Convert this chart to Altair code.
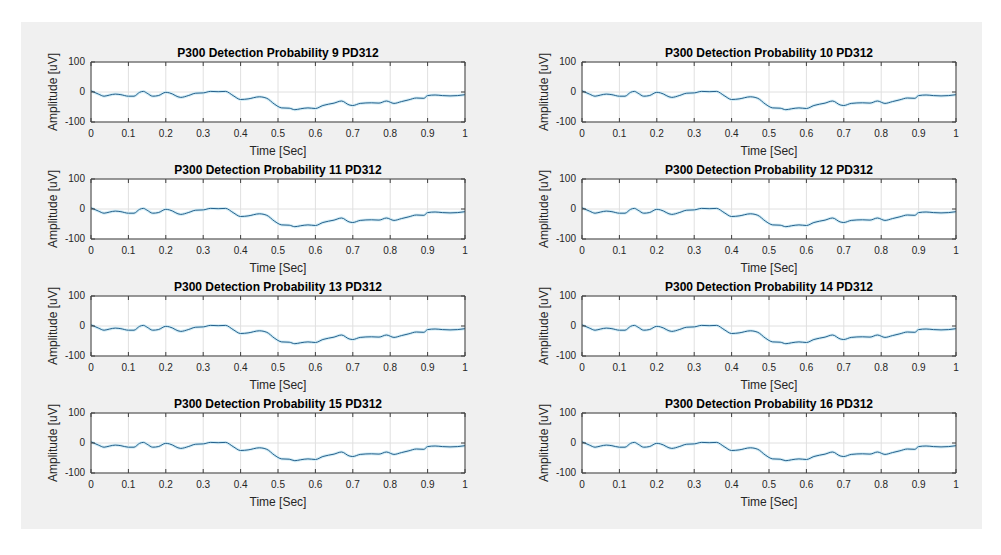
import altair as alt
import pandas as pd

# Averaged ERP trace (seconds, microvolts)
TIME = [0.0, 0.02, 0.035, 0.05, 0.065, 0.08, 0.1, 0.115, 0.13, 0.14, 0.15, 0.165,
        0.18, 0.2, 0.21, 0.24, 0.26, 0.28, 0.3, 0.32, 0.34, 0.36, 0.38, 0.4, 0.42,
        0.45, 0.47, 0.49, 0.51, 0.53, 0.545, 0.56, 0.58, 0.6, 0.62, 0.65, 0.67,
        0.69, 0.7, 0.72, 0.75, 0.77, 0.79, 0.81, 0.83, 0.85, 0.87, 0.89, 0.9, 0.92,
        0.94, 0.96, 0.98, 1.0]
AMP = [4, -7, -14, -10, -7, -9, -14, -14, -1, 2, -4, -14,
       -12, -1, -3, -18, -12, -4, -3, 2, 1, 2, -12, -25, -23,
       -16, -21, -40, -53, -54, -59, -56, -53, -55, -45, -37, -30,
       -43, -45, -38, -36, -37, -30, -38, -32, -26, -20, -21, -12, -10,
       -12, -13, -12, -9]

PANELS = [9, 10, 11, 12, 13, 14, 15, 16]
X_TICKS = [0, 0.1, 0.2, 0.3, 0.4, 0.5, 0.6, 0.7, 0.8, 0.9, 1]
X_LABELS = ["0", "0.1", "0.2", "0.3", "0.4", "0.5", "0.6", "0.7", "0.8", "0.9", "1"]
Y_TICKS = [-100, 0, 100]
Y_LABELS = ["-100", "0", "100"]

W, H = 374, 60
FONT = "Liberation Sans"
AXIS_COLOR = "#404040"
TEXT_COLOR = "#262626"
GRID_COLOR = "#e0e0e0"

# figure frame around the plot grid, relative to the first panel's origin
FIG_LEFT, FIG_TOP, FIG_W, FIG_H = -70, -40, 961, 507


def one_row():
    return pd.DataFrame({"k": [0]})


def panel(num, first=False):
    trace = pd.DataFrame({"t": TIME, "a": AMP})
    xt = pd.DataFrame({"t": X_TICKS, "lab": X_LABELS})
    yt = pd.DataFrame({"a": Y_TICKS, "lab": Y_LABELS})
    head = pd.DataFrame({"title": [f"P300 Detection Probability {num} PD312"]})

    x = alt.X("t:Q", scale=alt.Scale(domain=[0, 1], nice=False, zero=False), axis=None)
    y = alt.Y("a:Q", scale=alt.Scale(domain=[-100, 100], nice=False), axis=None)

    box = alt.Chart(one_row()).mark_rect(fill="white").encode(
        x=alt.value(0), x2=alt.value(W), y=alt.value(0), y2=alt.value(H))

    vgrid = alt.Chart(xt).mark_rule(color=GRID_COLOR, strokeWidth=1).encode(
        x=x, y=alt.value(0), y2=alt.value(H))
    hgrid = alt.Chart(yt).mark_rule(color=GRID_COLOR, strokeWidth=1).encode(
        y=y, x=alt.value(0), x2=alt.value(W))

    halo = alt.Chart(trace).mark_line(
        color="#d3edf6", strokeWidth=3, interpolate="monotone"
    ).encode(x=x, y=y)
    line = alt.Chart(trace).mark_line(
        color="#24608c", strokeWidth=1, interpolate="monotone"
    ).encode(x=x, y=y)

    # inward tick marks on all four sides
    tick_top = alt.Chart(xt).mark_rule(color=AXIS_COLOR).encode(
        x=x, y=alt.value(0), y2=alt.value(4))
    tick_bot = alt.Chart(xt).mark_rule(color=AXIS_COLOR).encode(
        x=x, y=alt.value(H - 4), y2=alt.value(H))
    tick_left = alt.Chart(yt).mark_rule(color=AXIS_COLOR).encode(
        y=y, x=alt.value(0), x2=alt.value(4))
    tick_right = alt.Chart(yt).mark_rule(color=AXIS_COLOR).encode(
        y=y, x=alt.value(W - 4), x2=alt.value(W))

    outline = alt.Chart(one_row()).mark_rect(
        fillOpacity=0, stroke=AXIS_COLOR, strokeWidth=1
    ).encode(x=alt.value(0), x2=alt.value(W), y=alt.value(0), y2=alt.value(H))

    x_labels = alt.Chart(xt).mark_text(
        font=FONT, fontSize=10, color=TEXT_COLOR, align="center", baseline="middle"
    ).encode(x=x, y=alt.value(H + 12), text="lab:N")
    y_labels = alt.Chart(yt).mark_text(
        font=FONT, fontSize=10, color=TEXT_COLOR, align="right", baseline="middle"
    ).encode(y=y, x=alt.value(-6), text="lab:N")

    x_title = alt.Chart(one_row()).mark_text(
        font=FONT, fontSize=12, color=TEXT_COLOR, align="center", baseline="middle"
    ).encode(x=alt.value(W / 2), y=alt.value(H + 29), text=alt.value("Time [Sec]"))
    y_title = alt.Chart(one_row()).mark_text(
        font=FONT, fontSize=12, color=TEXT_COLOR, align="center", baseline="middle",
        angle=270
    ).encode(x=alt.value(-38), y=alt.value(H / 2), text=alt.value("Amplitude [uV]"))

    title = alt.Chart(head).mark_text(
        font=FONT, fontSize=12, fontWeight="bold", color="#000000",
        align="center", baseline="alphabetic"
    ).encode(x=alt.value(W / 2), y=alt.value(-5), text="title:N")

    layers = [box, vgrid, hgrid, halo, line, tick_top, tick_bot, tick_left,
              tick_right, outline, x_labels, y_labels, x_title, y_title, title]
    if first:
        figure = alt.Chart(one_row()).mark_rect(fill="#f0f0f0").encode(
            x=alt.value(FIG_LEFT), x2=alt.value(FIG_LEFT + FIG_W),
            y=alt.value(FIG_TOP), y2=alt.value(FIG_TOP + FIG_H))
        layers = [figure] + layers

    return alt.layer(*layers).properties(width=W, height=H)


charts = [panel(n, first=(i == 0)) for i, n in enumerate(PANELS)]

chart = alt.concat(
    *charts, columns=2, spacing={"row": 57, "column": 117}, bounds="flush"
).properties(
    background="white",
    padding={"left": 21, "top": 22, "right": 1001 - 21 - FIG_W, "bottom": 26},
).configure_view(
    stroke=None
)

chart.save("out.html", embed_options={"renderer": "svg", "actions": False})
